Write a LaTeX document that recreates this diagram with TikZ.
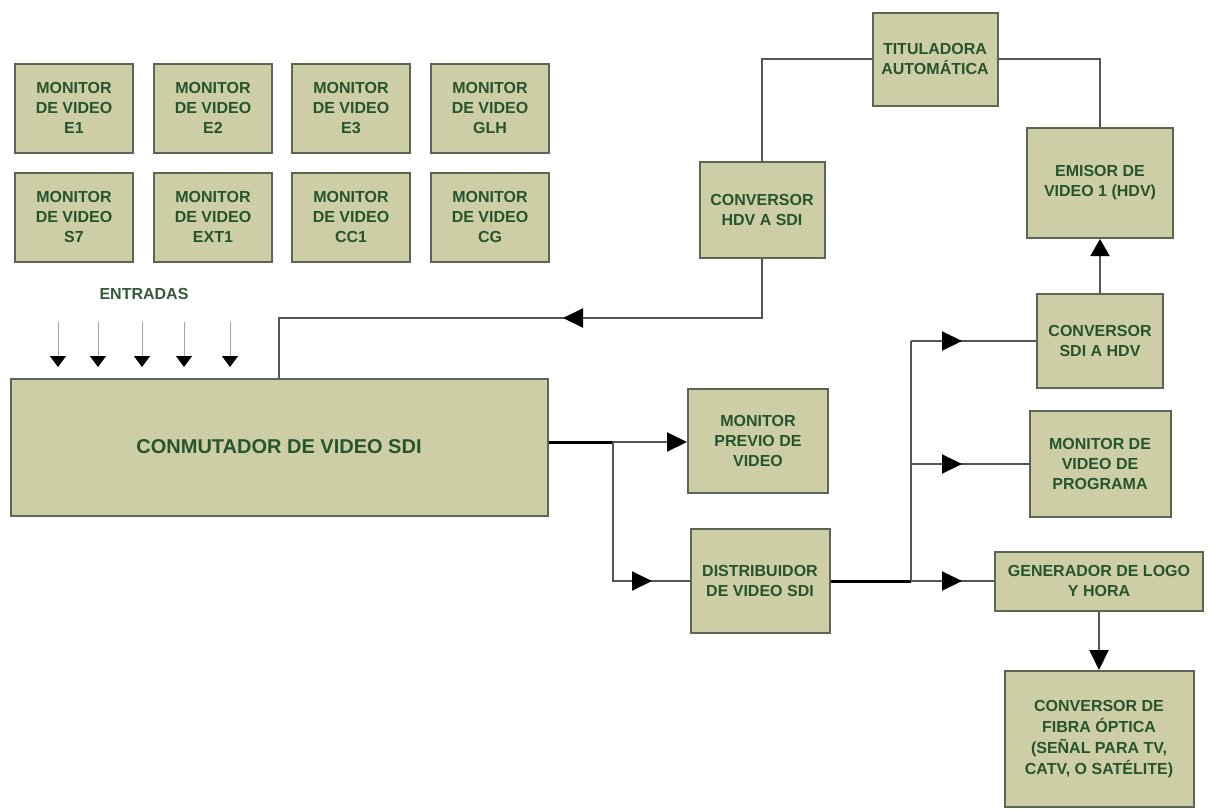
\documentclass[tikz,border=0pt]{standalone}
\usepackage{fontspec}
\setmainfont{Liberation Sans}
\usetikzlibrary{arrows.meta,decorations.markings}
\definecolor{boxfill}{RGB}{206,206,166}
\definecolor{boxline}{RGB}{92,102,84}
\definecolor{boxtext}{RGB}{38,84,44}
\definecolor{flowgray}{RGB}{85,85,85}
\tikzset{
  box/.style={draw=boxline, line width=2pt, fill=boxfill, text=boxtext,
    font=\bfseries\fontsize{16}{20}\selectfont, align=center, inner sep=0pt},
  flow/.style={draw=flowgray, line width=2pt},
  mainflow/.style={draw=black, line width=3pt},
  bigtip/.style={-{Triangle[length=20pt,width=19pt,black]}},
  midtip/.style={postaction={decorate}, decoration={markings,
    mark=at position #1 with {\arrow{Triangle[length=20pt,width=19pt,black]}}}},
}
\begin{document}
\begin{tikzpicture}[x=1pt, y=-1pt]
\useasboundingbox (0,0) rectangle (1210,809);

    % --- モニター群 ---
    \foreach \lbl/\cx [count=\i] in {E1/74,E2/213,E3/351,GLH/490} {
        \node [box, minimum width=118, minimum height=89] (mt\i) at (\cx,108) {MONITOR\\DE VIDEO\\\lbl};
    }
    \foreach \lbl/\cx [count=\i] in {S7/74,EXT1/213,CC1/351,CG/490} {
        \node [box, minimum width=118, minimum height=89] (mb\i) at (\cx,217) {MONITOR\\DE VIDEO\\\lbl};
    }

    % --- 入力 ---
    \node [text=boxtext!85!gray, font=\bfseries\fontsize{16}{20}\selectfont] (ent) at (144,294) {ENTRADAS};
    \node [box, minimum width=537, minimum height=137, font=\bfseries\fontsize{20}{24}\selectfont] (conm) at (279,447) {CONMUTADOR DE VIDEO SDI};
    \foreach \x in {58,98,142,184,230} {
        \draw [draw=gray!70, line width=1pt, -{Triangle[length=11pt,width=16pt,black]}] (\x,322) -- (\x,367);
    }

    % --- ブロック ---
    \node [box, minimum width=125, minimum height=96] (hdvsdi) at (762,210) {CONVERSOR\\HDV A SDI};
    \node [box, minimum width=125, minimum height=93] (titul) at (935,59) {TITULADORA\\AUTOMÁTICA};
    \node [box, minimum width=146, minimum height=110] (emisor) at (1100,183) {EMISOR DE\\VIDEO 1 (HDV)};
    \node [box, minimum width=126, minimum height=94] (sdihdv) at (1100,341) {CONVERSOR\\SDI A HDV};
    \node [box, minimum width=140, minimum height=104] (previo) at (758,441) {MONITOR\\PREVIO DE\\VIDEO};
    \node [box, minimum width=139, minimum height=104] (distrib) at (760,581) {DISTRIBUIDOR\\DE VIDEO SDI};
    \node [box, minimum width=141, minimum height=106] (progr) at (1100,464) {MONITOR DE\\VIDEO DE\\PROGRAMA};
    \node [box, minimum width=208, minimum height=59] (gener) at (1099,581) {GENERADOR DE LOGO\\Y HORA};
    \node [box, minimum width=189, minimum height=136, font=\bfseries\fontsize{16}{21}\selectfont] (fibra) at (1099,739) {CONVERSOR DE\\FIBRA ÓPTICA\\(SEÑAL PARA TV,\\CATV, O SATÉLITE)};

    % --- 接続点 ---
    \coordinate (ret) at (279,318);
    \coordinate (j1) at (613,442);
    \coordinate (j2) at (911,581);

    % --- 接続線 ---
    \draw [flow, midtip=258pt] (hdvsdi.south) |- (ret) -- (ret |- conm.north);
    \draw [flow] (hdvsdi.north) |- (titul.west);
    \draw [flow] (titul.east) -| (emisor.north);
    \draw [flow, -{Triangle[length=17pt,width=19pt,black]}] (sdihdv.north) -- (emisor.south);

    \draw [mainflow] (conm.east |- j1) -- (j1);
    \draw [flow, bigtip] (j1) -- (previo.west |- j1);
    \draw [flow, midtip=178pt] (j1) |- (distrib.west);

    \draw [mainflow] (distrib.east) -- (j2);
    \draw [flow] (j2) -- (j2 |- sdihdv.west);
    \draw [flow, midtip=51pt] (j2 |- sdihdv.west) -- (sdihdv.west);
    \draw [flow, midtip=51pt] (j2 |- progr.west) -- (progr.west);
    \draw [flow, midtip=51pt] (j2) -- (gener.west);
    \draw [flow, bigtip] (gener.south) -- (fibra.north);

\end{tikzpicture}
\end{document}
